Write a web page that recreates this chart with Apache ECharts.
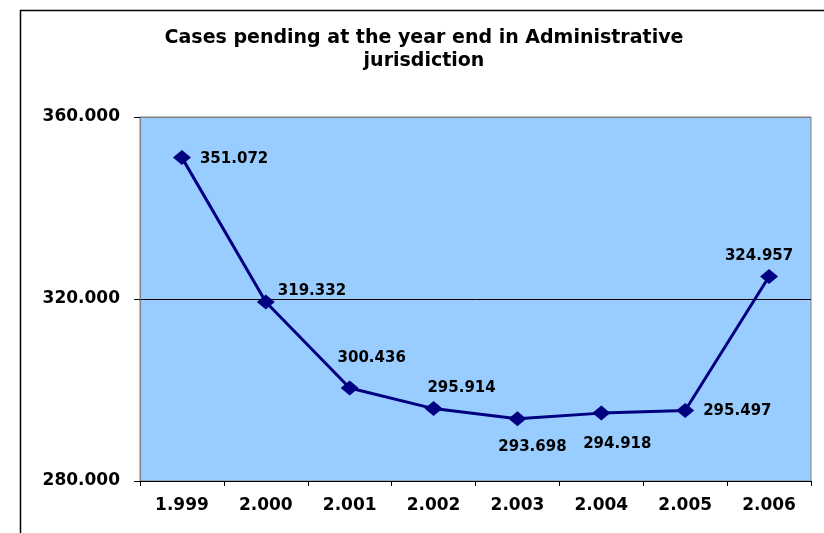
<!DOCTYPE html>
<html><head><meta charset="utf-8">
<script src="https://cdn.jsdelivr.net/npm/echarts@6/dist/echarts.min.js"></script>
<style>html,body{margin:0;padding:0;background:#fff}#c{width:824px;height:533px}</style>
</head><body><div id="c"></div>
<script>
var titleText = "Cases pending at the year end in Administrative\njurisdiction";
var categories = ["1.999","2.000","2.001","2.002","2.003","2.004","2.005","2.006"];
var pending = [351072, 319332, 300436, 295914, 293698, 294918, 295497, 324957];
var labelPlacement = [
  {position:'right', offset:[4,1]},
  {position:'right', offset:[-2,-11]},
  {position:'top', offset:[22,-10]},
  {position:'top', offset:[28,0]},
  {position:'bottom', offset:[15,8]},
  {position:'bottom', offset:[16,11]},
  {position:'right', offset:[4,1]},
  {position:'top', offset:[-10,0]}
];
function fmtDec(v){ return (v/1000).toFixed(3); }
var chart = echarts.init(document.getElementById('c'), null, {renderer:'canvas'});
var font = '"DejaVu Sans", Verdana, sans-serif';
chart.setOption({
  animation:false,
  backgroundColor:'#fff',
  title:{text:titleText, left:419, top:22, textAlign:'center',
    textStyle:{fontFamily:font, fontSize:19, fontWeight:'bold', color:'#000', lineHeight:23}},
  grid:{left:140, top:117, width:671, height:364, show:true, backgroundColor:'#99CCFF', borderColor:'#808080', borderWidth:1},
  xAxis:{type:'category', data:categories, boundaryGap:true,
    axisLine:{lineStyle:{color:'#000', width:1}},
    axisTick:{show:true, length:5, alignWithLabel:false, lineStyle:{color:'#000'}},
    axisLabel:{fontFamily:font, fontSize:17, fontWeight:'bold', color:'#000', margin:16}},
  yAxis:{type:'value', min:280000, max:360000, interval:40000,
    axisLine:{show:true, lineStyle:{color:'#808080'}},
    axisTick:{show:true, length:6, lineStyle:{color:'#000'}},
    axisLabel:{fontFamily:font, fontSize:17, fontWeight:'bold', color:'#000', margin:20, formatter:fmtDec},
    splitLine:{show:true, lineStyle:{color:['#808080','#000','#808080'], width:1}}},
  series:[{type:'line', data:pending.map(function(v,i){
      return {value:v, label:{position:labelPlacement[i].position, offset:labelPlacement[i].offset}};
    }),
    symbol:'diamond', symbolSize:[18,15],
    lineStyle:{color:'#000080', width:3},
    itemStyle:{color:'#000080'},
    label:{show:true, fontFamily:font, fontSize:15, fontWeight:'bold', color:'#000',
      formatter:function(p){return fmtDec(p.value);}}
  }],
  graphic:[{type:'rect', shape:{x:20.5, y:10.5, width:900, height:600}, style:{fill:null, stroke:'#000', lineWidth:1.5}, silent:true, z:100}]
});
</script></body></html>
